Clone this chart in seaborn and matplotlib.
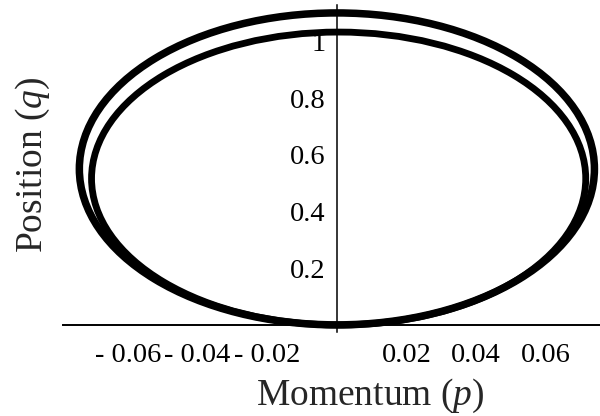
import matplotlib
matplotlib.use('Agg')
import matplotlib.pyplot as plt
from matplotlib.patches import Ellipse
import seaborn as sns

# orbits in phase space: outer, inner
orbit_p_center = [0.0, 0.0005]
orbit_q_center = [0.55, 0.516]
orbit_width = [0.148, 0.142]
orbit_height = [1.10, 1.033]
orbit_lw = [5.4, 4.9]

x_ticks = [-0.06, -0.04, -0.02, 0.02, 0.04, 0.06]
x_tick_labels = ['- 0.06', '- 0.04', '- 0.02', '0.02', '0.04', '0.06']
y_ticks = [0.2, 0.4, 0.6, 0.8, 1.0]
y_tick_labels = ['0.2', '0.4', '0.6', '0.8', '1']

sns.set_style('white')
plt.rcParams['font.family'] = ['Liberation Serif', 'DejaVu Serif']
plt.rcParams['mathtext.fontset'] = 'custom'
plt.rcParams['mathtext.it'] = 'Liberation Serif:italic'
plt.rcParams['mathtext.rm'] = 'Liberation Serif'

fig = plt.figure(figsize=(6, 4.16), dpi=100)
ax = fig.add_axes([0.105, 0.202, 0.895, 0.786])

for pc, qc, w, h, lw in zip(orbit_p_center, orbit_q_center, orbit_width, orbit_height, orbit_lw):
    ax.add_patch(Ellipse((pc, qc), w, h, fill=False, edgecolor='black', lw=lw, clip_on=False))

ax.set_xlim(-0.0787, 0.0756)
ax.set_ylim(-0.025, 1.128)

# axes crossing at the origin, Mathematica style
for side in ['top', 'right']:
    ax.spines[side].set_visible(False)
ax.spines['left'].set_position(('data', 0))
ax.spines['bottom'].set_position(('data', 0))
ax.spines['left'].set_linewidth(1.1)
ax.spines['bottom'].set_linewidth(1.4)
ax.spines['left'].set_color('black')
ax.spines['bottom'].set_color('black')

ax.set_xticks(x_ticks)
ax.set_xticklabels(x_tick_labels)
ax.set_yticks(y_ticks)
ax.set_yticklabels(y_tick_labels)
ax.tick_params(axis='x', length=0, pad=13, labelsize=20.5, colors='black')
ax.tick_params(axis='y', length=0, pad=8, labelsize=20.5, colors='black')
ax.patch.set_alpha(0)

fig.text(370 / 600, 1 - 405 / 416, 'Momentum ($p$)', ha='center', va='baseline', fontsize=27)
fig.text(33 / 600, 1 - 165 / 416, 'Position ($q$)', ha='center', va='center', rotation=90, fontsize=27)

fig.savefig('out.png', dpi=100, facecolor='white')
